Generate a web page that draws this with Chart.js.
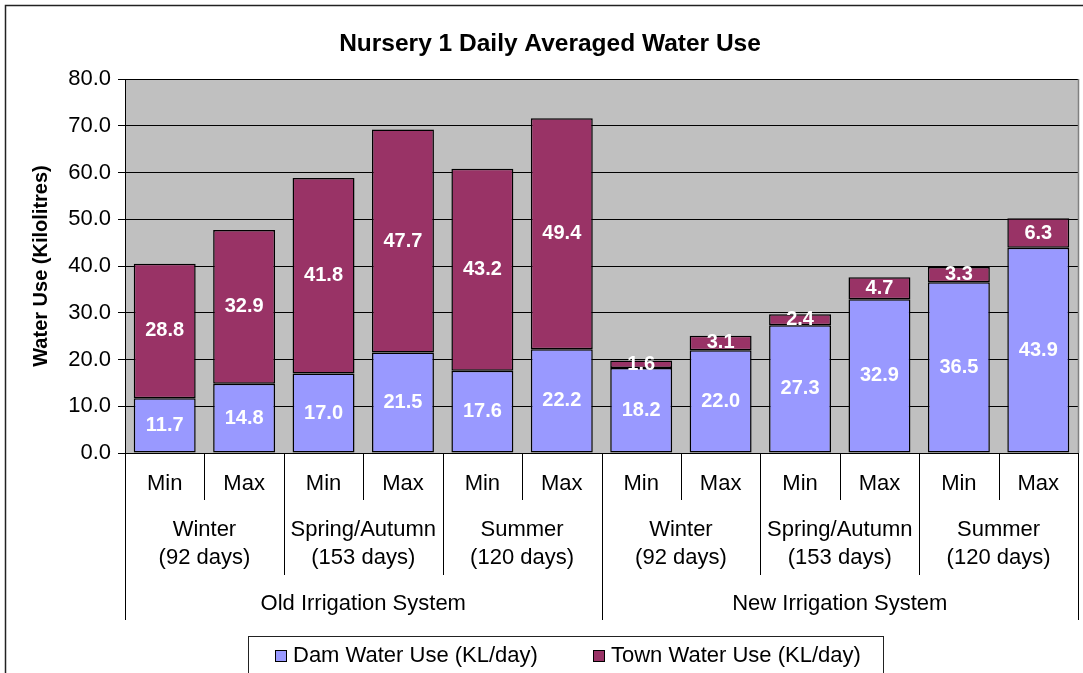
<!DOCTYPE html>
<html>
<head>
<meta charset="utf-8">
<title>Nursery 1 Daily Averaged Water Use</title>
<script src="https://cdn.jsdelivr.net/npm/chart.js@4/dist/chart.umd.min.js"></script>
<style>
  html, body { margin: 0; padding: 0; background: #fff; }
  #wrap { width: 1083px; height: 673px; }
</style>
</head>
<body>
<div id="wrap"><canvas id="waterChart" width="1083" height="673"></canvas></div>
<script>
// chart data
const categories = ['Min', 'Max', 'Min', 'Max', 'Min', 'Max', 'Min', 'Max', 'Min', 'Max', 'Min', 'Max'];
const seasons = [['Winter', '(92 days)'], ['Spring/Autumn', '(153 days)'], ['Summer', '(120 days)']];
const systems = ['Old Irrigation System', 'New Irrigation System'];
const damUse = [11.7, 14.8, 17.0, 21.5, 17.6, 22.2, 18.2, 22.0, 27.3, 32.9, 36.5, 43.9];
const townUse = [28.8, 32.9, 41.8, 47.7, 43.2, 49.4, 1.6, 3.1, 2.4, 4.7, 3.3, 6.3];
const seriesNames = ['Dam Water Use (KL/day)', 'Town Water Use (KL/day)'];
const yTicks = [0, 10, 20, 30, 40, 50, 60, 70, 80];

const FONT = '"Liberation Sans", Arial, sans-serif';
const damColor = '#9999FF';
const townColor = '#993366';

const plotBg = {
    id: 'plotBg',
    beforeDraw(chart) {
        const { ctx, chartArea: a } = chart;
        ctx.save();
        // outer frame of the chart object
        ctx.strokeStyle = '#222';
        ctx.lineWidth = 1.5;
        ctx.strokeRect(5.5, 5.5, 1200, 800);
        ctx.fillStyle = '#C0C0C0';
        ctx.fillRect(a.left, a.top, a.right - a.left, a.bottom - a.top);
        ctx.restore();
    },
    afterDatasetsDraw(chart) {
        const { ctx, chartArea: a } = chart;
        ctx.save();
        ctx.strokeStyle = '#808080';
        ctx.lineWidth = 1.5;
        ctx.beginPath();
        ctx.moveTo(a.right + 0.5, a.top);
        ctx.lineTo(a.right + 0.5, a.bottom);
        ctx.stroke();
        ctx.restore();
    }
};

// white values in the middle of each segment
const valueLabels = {
    id: 'valueLabels',
    afterDatasetsDraw(chart) {
        const ctx = chart.ctx;
        ctx.save();
        ctx.fillStyle = '#fff';
        ctx.font = 'bold 20px ' + FONT;
        ctx.textAlign = 'center';
        ctx.textBaseline = 'middle';
        chart.data.datasets.forEach((ds, di) => {
            chart.getDatasetMeta(di).data.forEach((bar, i) => {
                const yc = (bar.y + bar.base) / 2;
                ctx.fillText(ds.data[i].toFixed(1), bar.x, yc);
            });
        });
        ctx.restore();
    }
};

// multi level category axis, title and legend
const extras = {
    id: 'extras',
    afterDraw(chart) {
        const { ctx, chartArea: a, scales: { x } } = chart;
        const n = categories.length;
        const edge = i => i === 0 ? a.left : i === n ? a.right : (x.getPixelForValue(i - 1) + x.getPixelForValue(i)) / 2;
        ctx.save();
        ctx.strokeStyle = '#000';
        ctx.lineWidth = 1;
        for (let i = 0; i <= n; i++) {
            const px = Math.round(edge(i)) + 0.5;
            let len = 47;
            if (i % 2 === 0) len = 122;
            if (i % 6 === 0) len = 167;
            ctx.beginPath();
            ctx.moveTo(px, a.bottom);
            ctx.lineTo(px, a.bottom + len);
            ctx.stroke();
        }
        ctx.fillStyle = '#000';
        ctx.textAlign = 'center';
        ctx.textBaseline = 'middle';
        ctx.font = '22px ' + FONT;
        categories.forEach((c, i) => ctx.fillText(c, x.getPixelForValue(i), a.bottom + 31));
        for (let g = 0; g < n / 2; g++) {
            const cx = (edge(2 * g) + edge(2 * g + 2)) / 2;
            const s = seasons[g % seasons.length];
            ctx.fillText(s[0], cx, a.bottom + 77);
            ctx.fillText(s[1], cx, a.bottom + 105);
        }
        systems.forEach((s, k) => {
            const cx = (edge(6 * k) + edge(6 * k + 6)) / 2;
            ctx.fillText(s, cx, a.bottom + 151);
        });

        // title
        ctx.font = 'bold 24.5px ' + FONT;
        ctx.fillText('Nursery 1 Daily Averaged Water Use', 550, 44);

        // legend
        ctx.strokeStyle = '#222';
        ctx.lineWidth = 1;
        ctx.strokeRect(248.5, 636.5, 635, 60);
        ctx.font = '22px ' + FONT;
        ctx.textAlign = 'left';
        const items = [[275, damColor], [593, townColor]];
        items.forEach((it, k) => {
            ctx.fillStyle = it[1];
            ctx.fillRect(it[0] + 0.5, 650.5, 11, 11);
            ctx.strokeStyle = '#000';
            ctx.strokeRect(it[0] + 0.5, 650.5, 11, 11);
            ctx.fillStyle = '#000';
            ctx.fillText(seriesNames[k], it[0] + 18, 656);
        });
        ctx.restore();
    }
};

new Chart(document.getElementById('waterChart'), {
    type: 'bar',
    data: {
        labels: categories,
        datasets: [
            { label: seriesNames[0], data: damUse, backgroundColor: damColor },
            { label: seriesNames[1], data: townUse, backgroundColor: townColor }
        ]
    },
    options: {
        responsive: false,
        animation: false,
        layout: { padding: { left: 0, top: 79, right: 5, bottom: 0 } },
        datasets: {
            bar: {
                borderColor: '#000',
                borderWidth: 1.5,
                borderSkipped: false,
                barPercentage: 0.78,
                categoryPercentage: 1
            }
        },
        plugins: {
            legend: { display: false },
            title: { display: false },
            tooltip: { enabled: false }
        },
        scales: {
            x: {
                stacked: true,
                grid: { display: false },
                border: { display: true, color: '#000', width: 1 },
                ticks: { display: false },
                afterFit: s => { s.height = 220; }
            },
            y: {
                stacked: true,
                min: 0,
                max: 80,
                afterBuildTicks: s => { s.ticks = yTicks.map(v => ({ value: v })); },
                ticks: {
                    color: '#000',
                    font: { family: FONT, size: 22 },
                    padding: 7,
                    callback: v => v.toFixed(1)
                },
                grid: { color: '#000', lineWidth: 1, tickLength: 7, tickColor: '#000' },
                border: { display: true, color: '#000', width: 1 },
                title: {
                    display: true,
                    text: 'Water Use (Kilolitres)',
                    color: '#000',
                    font: { family: FONT, size: 20, weight: 'bold' },
                    padding: { top: 29, bottom: 0 }
                },
                afterFit: s => { s.width = 125; }
            }
        }
    },
    plugins: [plotBg, valueLabels, extras]
});
</script>
</body>
</html>
